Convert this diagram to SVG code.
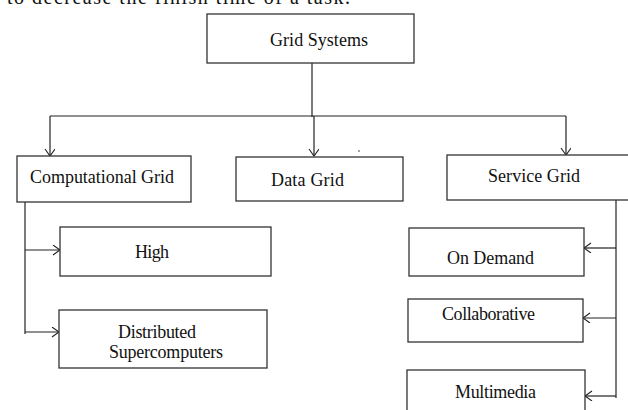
<svg xmlns="http://www.w3.org/2000/svg" width="628" height="410" viewBox="0 0 628 410">
<style>
.box{fill:#fff;stroke:#333;stroke-width:1.3}
.lbl{font-family:"Liberation Serif","Times New Roman",serif;font-size:18px;fill:#111}
.ln{fill:none;stroke:#222;stroke-width:1.2}
.arr{marker-end:url(#ah)}
</style>
<defs>
<marker id="ah" markerUnits="userSpaceOnUse" markerWidth="12" markerHeight="12" refX="8" refY="5" orient="auto">
<path d="M1,0 L8,5 L1,10" fill="none" stroke="#222" stroke-width="1.1"/>
</marker>
</defs>
<rect width="628" height="410" fill="#fff"/>
<text class="lbl" x="7" y="4" font-size="20" textLength="343" style="font-size:20px">to decrease the finish time of a task.</text>
<g id="connectors">
<path class="ln" d="M312,63 V117"/>
<path class="ln" d="M50,116 H566"/>
<path class="ln arr" d="M50,116 V156"/>
<path class="ln arr" d="M314,116 V156"/>
<path class="ln arr" d="M566,116 V155"/>
<path class="ln" d="M25,202 V334"/>
<path class="ln arr" d="M25,250 H60"/>
<path class="ln arr" d="M25,332 H59"/>
<path class="ln" d="M616,200 V398"/>
<path class="ln arr" d="M616,248 H584"/>
<path class="ln arr" d="M616,318 H583"/>
<path class="ln arr" d="M616,396 H585"/>
<circle cx="359" cy="151" r="0.8" fill="#333"/>
</g>
<g id="grid-systems">
<rect class="box" x="207" y="14" width="207" height="49"/>
<text class="lbl" x="270" y="46" textLength="98">Grid Systems</text>
</g>
<g id="computational-grid">
<rect class="box" x="17" y="156" width="174" height="46"/>
<text class="lbl" x="30" y="183" textLength="144">Computational Grid</text>
</g>
<g id="data-grid">
<rect class="box" x="236" y="157" width="167" height="44"/>
<text class="lbl" x="271" y="186" textLength="73">Data Grid</text>
</g>
<g id="service-grid">
<rect class="box" x="447" y="155" width="200" height="45"/>
<text class="lbl" x="488" y="182" textLength="92">Service Grid</text>
</g>
<g id="high">
<rect class="box" x="60" y="227" width="211" height="49"/>
<text class="lbl" x="135" y="258" textLength="34">High</text>
</g>
<g id="distributed-supercomputers">
<rect class="box" x="59" y="310" width="208" height="58"/>
<text class="lbl" x="118" y="338" textLength="78">Distributed</text>
<text class="lbl" x="109" y="358" textLength="114">Supercomputers</text>
</g>
<g id="on-demand">
<rect class="box" x="409" y="228" width="175" height="48"/>
<text class="lbl" x="447" y="264" textLength="87">On Demand</text>
</g>
<g id="collaborative">
<rect class="box" x="408" y="299" width="175" height="43"/>
<text class="lbl" x="442" y="320" textLength="93">Collaborative</text>
</g>
<g id="multimedia">
<rect class="box" x="407" y="370" width="178" height="60"/>
<text class="lbl" x="455" y="398" textLength="81">Multimedia</text>
</g>
</svg>
